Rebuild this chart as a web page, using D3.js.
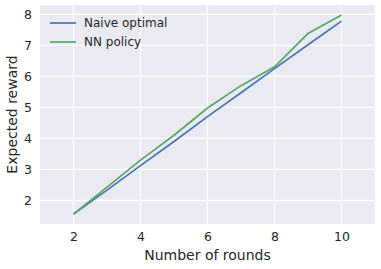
<!DOCTYPE html>
<html>
<head>
<meta charset="utf-8">
<script src="https://cdn.jsdelivr.net/npm/d3@7"></script>
<style>
  body { margin: 0; background: #fff; }
  text { font-family: "DejaVu Sans", sans-serif; fill: #262626; }
</style>
</head>
<body>
<svg width="381" height="269"></svg>
<script>
// Данные графика
const rounds = [2, 3, 4, 5, 6, 7, 8, 9, 10];
const naiveOptimal = [1.56, 2.33, 3.12, 3.90, 4.70, 5.47, 6.25, 7.02, 7.78];
const nnPolicy = [1.56, 2.43, 3.30, 4.10, 4.98, 5.70, 6.31, 7.38, 7.98];
const xTicks = [2, 4, 6, 8, 10];
const yTicks = [2, 3, 4, 5, 6, 7, 8];
const xLimits = [1, 11];

const svg = d3.select("svg");
const margin = {left: 40, right: 6, top: 5, bottom: 45};
const width = +svg.attr("width");
const height = +svg.attr("height");

// Пределы оси y с полями 5%, как в matplotlib
const all = naiveOptimal.concat(nnPolicy);
const yMin = d3.min(all), yMax = d3.max(all);
const pad = (yMax - yMin) * 0.05;

const x = d3.scaleLinear().domain(xLimits).range([margin.left, width - margin.right]);
const y = d3.scaleLinear().domain([yMin - pad, yMax + pad]).range([height - margin.bottom, margin.top]);

// Фон области построения
svg.append("rect")
    .attr("x", margin.left).attr("y", margin.top)
    .attr("width", width - margin.left - margin.right)
    .attr("height", height - margin.top - margin.bottom)
    .attr("fill", "#EAEAF2");

// Сетка
svg.append("g").selectAll("line").data(xTicks).join("line")
    .attr("x1", d => x(d)).attr("x2", d => x(d))
    .attr("y1", margin.top).attr("y2", height - margin.bottom)
    .attr("stroke", "#fff").attr("stroke-width", 1.1);
svg.append("g").selectAll("line").data(yTicks).join("line")
    .attr("y1", d => y(d)).attr("y2", d => y(d))
    .attr("x1", margin.left).attr("x2", width - margin.right)
    .attr("stroke", "#fff").attr("stroke-width", 1.1);

// Оси (только подписи делений)
const xAxis = svg.append("g")
    .attr("transform", `translate(0,${height - margin.bottom})`)
    .call(d3.axisBottom(x).tickValues(xTicks).tickFormat(d3.format("d")).tickSize(0).tickPadding(8));
const yAxis = svg.append("g")
    .attr("transform", `translate(${margin.left},0)`)
    .call(d3.axisLeft(y).tickValues(yTicks).tickFormat(d3.format("d")).tickSize(0).tickPadding(8));
[xAxis, yAxis].forEach(a => {
    a.select(".domain").remove();
    a.selectAll("text").attr("font-size", 12.5).attr("fill", "#262626")
        .attr("font-family", "DejaVu Sans, sans-serif");
});

// Подписи осей
svg.append("text")
    .attr("x", (margin.left + width - margin.right) / 2).attr("y", 260)
    .attr("text-anchor", "middle").attr("font-size", 14)
    .text("Number of rounds");
svg.append("text")
    .attr("transform", `translate(17,${(margin.top + height - margin.bottom) / 2}) rotate(-90)`)
    .attr("text-anchor", "middle").attr("font-size", 14)
    .text("Expected reward");

// Линии
const series = [
    {name: "Naive optimal", values: naiveOptimal, color: "#4C72B0"},
    {name: "NN policy", values: nnPolicy, color: "#55A868"}
];
const line = d3.line()
    .x((d, i) => x(rounds[i]))
    .y(d => y(d));
series.forEach(s => {
    svg.append("path")
        .attr("d", line(s.values))
        .attr("fill", "none")
        .attr("stroke", s.color)
        .attr("stroke-width", 1.7);
});

// Легенда
const legend = svg.append("g");
series.forEach((s, i) => {
    const ly = 23 + i * 19;
    legend.append("line")
        .attr("x1", 50).attr("x2", 76).attr("y1", ly).attr("y2", ly)
        .attr("stroke", s.color).attr("stroke-width", 1.7);
    legend.append("text")
        .attr("x", 84).attr("y", ly).attr("dy", "0.35em")
        .attr("font-size", 12)
        .text(s.name);
});
</script>
</body>
</html>
